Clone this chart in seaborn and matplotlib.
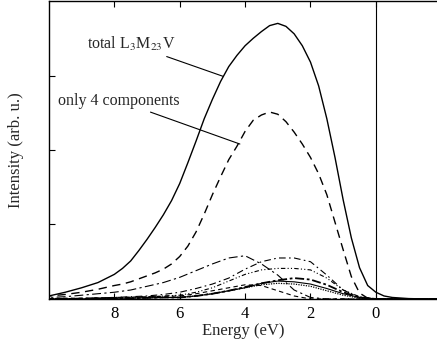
import matplotlib

matplotlib.use("Agg")

import matplotlib.pyplot as plt
import pandas as pd
import seaborn as sns

# Finer energy grid (eV) for the two large curves
ENERGY_MAIN = [10.0, 9.5, 9.0, 8.5, 8.0, 7.75, 7.5, 7.25, 7.0, 6.75, 6.5, 6.25, 6.0,
               5.75, 5.5, 5.25, 5.0, 4.75, 4.5, 4.25, 4.0, 3.75, 3.5, 3.25, 3.0,
               2.75, 2.5, 2.25, 2.0, 1.75, 1.5, 1.25, 1.0, 0.75, 0.5, 0.25, 0.0,
               -0.25, -0.5, -1.0, -1.5, -2.0]
TOTAL = [0.04, 0.09, 0.15, 0.22, 0.33, 0.41, 0.51, 0.65, 0.80, 0.96, 1.13, 1.32, 1.55,
         1.83, 2.12, 2.42, 2.68, 2.92, 3.12, 3.27, 3.40, 3.50, 3.59, 3.67, 3.70,
         3.66, 3.56, 3.40, 3.18, 2.86, 2.42, 1.90, 1.33, 0.82, 0.42, 0.18, 0.09,
         0.04, 0.02, 0.005, 0.0, 0.0]
FOUR_COMP = [0.04, 0.06, 0.09, 0.13, 0.18, 0.20, 0.23, 0.27, 0.31, 0.35, 0.40, 0.47, 0.57,
             0.71, 0.90, 1.14, 1.40, 1.64, 1.87, 2.05, 2.25, 2.40, 2.47, 2.51, 2.48,
             2.38, 2.24, 2.08, 1.90, 1.68, 1.40, 1.03, 0.66, 0.30, 0.08, 0.01, 0.0,
             0.0, 0.0, 0.0, 0.0, 0.0]

# Coarser grid for the small component curves
ENERGY_COMP = [10.0, 9.5, 9.0, 8.5, 8.0, 7.5, 7.0, 6.5, 6.0, 5.5, 5.0, 4.5, 4.0,
               3.5, 3.0, 2.5, 2.0, 1.5, 1.0, 0.5, 0.0, -0.5, -1.0, -1.5, -2.0]
COMP_A = [0.02, 0.03, 0.05, 0.07, 0.09, 0.12, 0.17, 0.22, 0.29, 0.38, 0.47, 0.55, 0.58,
          0.47, 0.32, 0.12, 0.02, 0.0, 0.0, 0.0, 0.0, 0.0, 0.0, 0.0, 0.0]
COMP_B = [0.0, 0.005, 0.01, 0.015, 0.02, 0.03, 0.04, 0.06, 0.09, 0.14, 0.20, 0.28, 0.40,
          0.50, 0.55, 0.55, 0.50, 0.32, 0.12, 0.02, 0.0, 0.0, 0.0, 0.0, 0.0]
COMP_C = [0.0, 0.0, 0.005, 0.01, 0.015, 0.02, 0.03, 0.04, 0.05, 0.09, 0.15, 0.24, 0.33,
          0.39, 0.41, 0.41, 0.39, 0.28, 0.12, 0.03, 0.0, 0.0, 0.0, 0.0, 0.0]
COMP_D = [0.0, 0.0, 0.0, 0.005, 0.01, 0.01, 0.015, 0.02, 0.02, 0.04, 0.07, 0.11, 0.16,
          0.21, 0.25, 0.28, 0.26, 0.19, 0.09, 0.02, 0.0, 0.0, 0.0, 0.0, 0.0]
COMP_E = [0.0, 0.0, 0.0, 0.005, 0.01, 0.01, 0.015, 0.02, 0.02, 0.04, 0.07, 0.11, 0.15,
          0.21, 0.24, 0.23, 0.20, 0.14, 0.07, 0.02, 0.0, 0.0, 0.0, 0.0, 0.0]
COMP_F = [0.0, 0.0, 0.0, 0.005, 0.01, 0.01, 0.015, 0.02, 0.02, 0.04, 0.07, 0.11, 0.15,
          0.19, 0.21, 0.20, 0.17, 0.11, 0.05, 0.01, 0.0, 0.0, 0.0, 0.0, 0.0]
COMP_G = [0.005, 0.01, 0.01, 0.015, 0.02, 0.025, 0.03, 0.035, 0.04, 0.07, 0.11, 0.15, 0.19,
          0.18, 0.11, 0.04, 0.0, 0.0, 0.0, 0.0, 0.0, 0.0, 0.0, 0.0, 0.0]

MAIN_SERIES = {"total": TOTAL, "four": FOUR_COMP}
COMP_SERIES = {
    "a": COMP_A,
    "b": COMP_B,
    "c": COMP_C,
    "d": COMP_D,
    "e": COMP_E,
    "f": COMP_F,
    "g": COMP_G,
}

STYLES = {
    "total": dict(linestyle="-", linewidth=1.0),
    "four": dict(linestyle=(0, (6, 4)), linewidth=1.0),
    "a": dict(linestyle=(0, (8, 3, 2, 3)), linewidth=0.8),
    "b": dict(linestyle=(0, (6, 3, 1.5, 3)), linewidth=0.8),
    "c": dict(linestyle=(0, (4, 2, 1, 2, 1, 2)), linewidth=0.8),
    "d": dict(linestyle=(0, (5, 1.5, 1.5, 1.5)), linewidth=1.3),
    "e": dict(linestyle="-", linewidth=0.8),
    "f": dict(linestyle=(0, (1, 1)), linewidth=0.9),
    "g": dict(linestyle=(0, (4, 3)), linewidth=0.8),
}


def main() -> None:
    main_df = pd.DataFrame({"energy": ENERGY_MAIN, **MAIN_SERIES})
    comp_df = pd.DataFrame({"energy": ENERGY_COMP, **COMP_SERIES})

    sns.set_theme(style="ticks")
    plt.rcParams["font.family"] = ["Liberation Serif", "DejaVu Serif"]
    plt.rcParams["mathtext.fontset"] = "stix"

    fig = plt.figure(figsize=(4.37, 3.46), dpi=100)
    axis = fig.add_axes([0.112, 0.136, 0.888, 0.861])

    for name in COMP_SERIES:
        sns.lineplot(data=comp_df, x="energy", y=name, color="black", ax=axis,
                     **STYLES[name])
    for name in MAIN_SERIES:
        sns.lineplot(data=main_df, x="energy", y=name, color="black", ax=axis,
                     **STYLES[name])

    axis.axvline(0, color="black", linewidth=0.8)

    axis.set_xlim(10.0, -1.87)
    axis.set_ylim(0, 4.0)
    axis.set_xticks([8, 6, 4, 2, 0])
    axis.set_yticks([1, 2, 3])
    axis.set_yticklabels([])
    axis.tick_params(direction="in", length=4, width=0.8, top=True, labelsize=12,
                     colors="black", pad=5)
    axis.spines["right"].set_visible(False)
    for side in ["left", "bottom", "top"]:
        axis.spines[side].set_linewidth(1.0)
        axis.spines[side].set_color("black")

    axis.set_xlabel("Energy (eV)", fontsize=12, labelpad=1)
    axis.set_ylabel("Intensity (arb. u.)", fontsize=12, labelpad=13)

    axis.annotate("total L$_3$M$_{23}$V", xy=(4.68, 2.99), xytext=(6.12, 3.42),
                  ha="right", va="center", fontsize=11.5,
                  arrowprops=dict(arrowstyle="-", color="black", linewidth=0.8,
                                  shrinkA=0, shrinkB=0))
    axis.annotate("only 4 components", xy=(4.16, 2.08), xytext=(6.0, 2.66),
                  ha="right", va="center", fontsize=11.5,
                  arrowprops=dict(arrowstyle="-", color="black", linewidth=0.8,
                                  shrinkA=0, shrinkB=0))

    fig.savefig("out.png", dpi=100)
    plt.close(fig)


if __name__ == "__main__":
    main()
